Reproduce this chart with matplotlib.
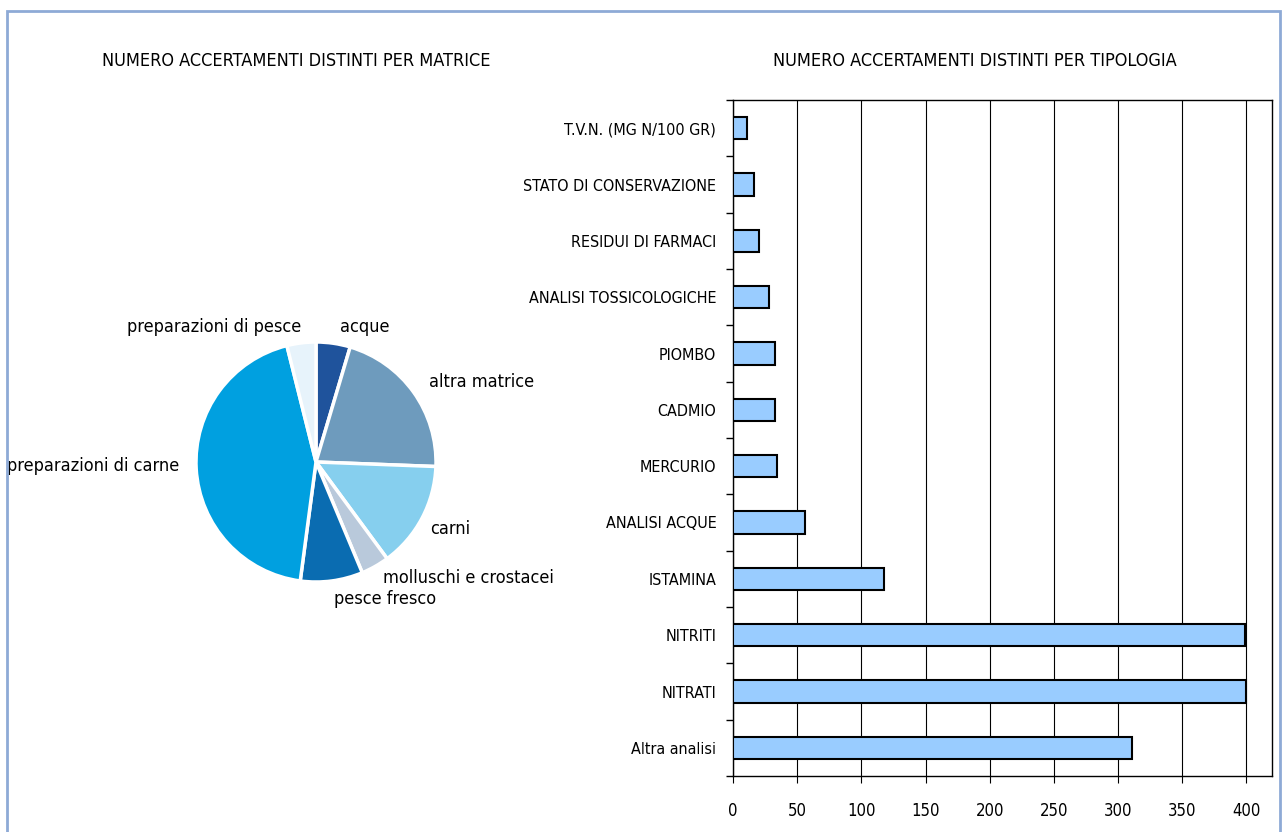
import matplotlib.pyplot as plt
from matplotlib.patches import Rectangle
from matplotlib.ticker import MultipleLocator, FixedLocator

plt.rcParams['font.family'] = ['DejaVu Sans']
plt.rcParams['font.stretch'] = 'condensed'

# pie data (share of checks by matrix, %)
matrici = ['acque', 'altra matrice', 'carni', 'molluschi e crostacei',
           'pesce fresco', 'preparazioni di carne', 'preparazioni di pesce']
quote = [4.6, 21.0, 14.3, 3.8, 8.4, 44.0, 3.9]
colori_pie = ['#1f539c', '#6e9bbd', '#86cfee', '#b9c9db',
              '#0a6cb1', '#00a0e0', '#e7f3fb']

# bar data (checks by type)
tipologie = ['Altra analisi', 'NITRATI', 'NITRITI', 'ISTAMINA', 'ANALISI ACQUE',
             'MERCURIO', 'CADMIO', 'PIOMBO', 'ANALISI TOSSICOLOGICHE',
             'RESIDUI DI FARMACI', 'STATO DI CONSERVAZIONE', 'T.V.N. (MG N/100 GR)']
conteggi = [311, 400, 399, 118, 56, 34, 33, 33, 28, 20, 16, 11]

# where each pie label sits (radius units) and its alignment
pos_etichette = [(0.20, 1.125, 'left'), (0.94, 0.667, 'left'), (0.95, -0.56, 'left'),
                 (0.56, -0.97, 'left'), (0.15, -1.14, 'left'),
                 (-1.14, -0.03, 'right'), (-0.12, 1.125, 'right')]

fig = plt.figure(figsize=(12.82, 8.32), dpi=100)

# light blue frame
fig.patches.append(Rectangle((7/1282, -0.1), (1280-7)/1282, 1.1 - 11/832,
                             transform=fig.transFigure, fill=False,
                             edgecolor='#8eaad6', linewidth=2))

# ---- pie ----
ax1 = fig.add_axes([(316-150)/1282, 1-(462+150)/832, 300/1282, 300/832])
wedges, _ = ax1.pie(quote, colors=colori_pie, startangle=90, counterclock=False,
                    wedgeprops=dict(edgecolor='white', linewidth=2.5))
for nome, (x, y, ha) in zip(matrici, pos_etichette):
    ax1.text(x, y, nome, ha=ha, va='center', fontsize=13, clip_on=False)
ax1.set_xlim(-1.25, 1.25)
ax1.set_ylim(-1.25, 1.25)
ax1.set_aspect('equal')
fig.text(296/1282, 1-61/832, 'NUMERO ACCERTAMENTI DISTINTI PER MATRICE',
         ha='center', va='center', fontsize=13)

# ---- bars ----
ax2 = fig.add_axes([733/1282, 1-776/832, (1272-733)/1282, (776-100)/832])
pos = range(len(tipologie))
ax2.barh(pos, conteggi, height=0.4, color='#99ccff', edgecolor='black', linewidth=1.5,
         zorder=3)
ax2.set_xlim(0, 420)
ax2.set_ylim(-0.5, len(tipologie) - 0.5)
ax2.xaxis.set_major_locator(MultipleLocator(50))
ax2.grid(axis='x', color='black', linewidth=0.8, zorder=0)
ax2.set_yticks(list(pos))
ax2.set_yticklabels(tipologie, fontsize=11.5)
ax2.tick_params(axis='y', length=0, pad=12)
ax2.yaxis.set_minor_locator(FixedLocator([p + 0.5 for p in range(-1, len(tipologie))]))
ax2.tick_params(axis='y', which='minor', length=5, width=1)
ax2.tick_params(axis='x', length=5, labelsize=12, pad=14)
for s in ax2.spines.values():
    s.set_linewidth(1)
fig.text(975/1282, 1-61/832, 'NUMERO ACCERTAMENTI DISTINTI PER TIPOLOGIA',
         ha='center', va='center', fontsize=13)

fig.savefig('out.png', dpi=100)
